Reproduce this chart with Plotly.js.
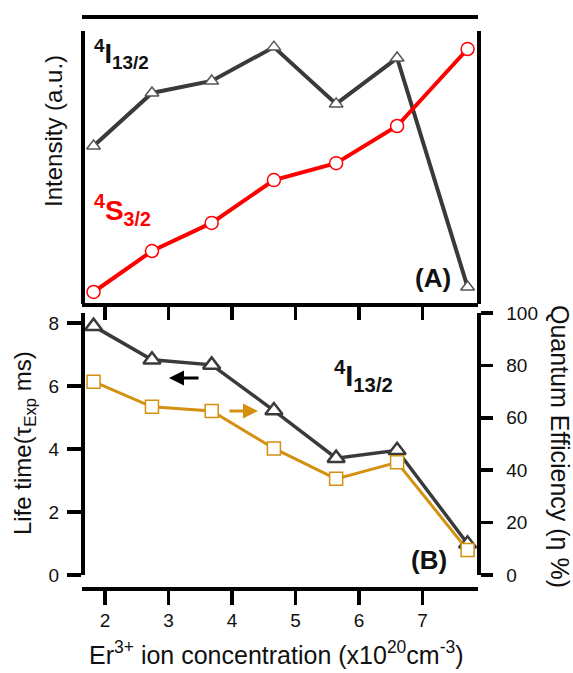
<!DOCTYPE html>
<html><head><meta charset="utf-8">
<script src="https://cdn.plot.ly/plotly-3.0.1.min.js"></script>
<style>html,body{margin:0;padding:0;background:#fff}</style>
</head><body><div id="chart" style="width:573px;height:673px"></div>
<script>
// Data
const concentration = [1.82, 2.74, 3.68, 4.66, 5.64, 6.60, 7.71];
const intensityI13 = [57.9, 77.3, 81.7, 94.1, 73.3, 90.1, 6.2];
const intensityS32 = [4.4, 19.4, 29.7, 45.4, 51.6, 65.2, 93.4];
const lifetime = [7.9, 6.83, 6.67, 5.22, 3.71, 3.96, 0.99];
const quantumEff = [73.8, 64.2, 62.6, 48.3, 36.7, 43.0, 9.5];
const xTicks = [2, 3, 4, 5, 6, 7];
const leftTicks = [0, 2, 4, 6, 8];
const rightTicks = [0, 20, 40, 60, 80, 100];

const FONT = 'Arial, "Liberation Sans", sans-serif';
const DARK = '#3a3a3a';
const RED = '#ff0000';
const GOLD = '#d4900f';

const W = 573, H = 673, L = 82, R = 95, T = 17, B = 85;
const PW = W - L - R, PH = H - T - B;
const px = x => (x - L) / PW;
const py = y => (H - B - y) / PH;

const traces = [
  {x: concentration, y: intensityI13, xaxis: 'x', yaxis: 'y3', mode: 'lines+markers',
   line: {color: DARK, width: 4},
   marker: {symbol: 'triangle-up', size: 12, color: '#fff', line: {color: '#555', width: 1.5}},
   cliponaxis: false},
  {x: concentration, y: intensityS32, xaxis: 'x', yaxis: 'y3', mode: 'lines+markers',
   line: {color: RED, width: 4},
   marker: {symbol: 'circle', size: 13, color: '#fff', line: {color: RED, width: 1.5}},
   cliponaxis: false},
  {x: concentration, y: quantumEff, xaxis: 'x', yaxis: 'y2', mode: 'lines+markers',
   line: {color: GOLD, width: 3},
   marker: {symbol: 'square', size: 13, color: '#fff', line: {color: GOLD, width: 1.5}},
   cliponaxis: false},
  {x: concentration, y: lifetime, xaxis: 'x', yaxis: 'y', mode: 'lines+markers',
   line: {color: DARK, width: 3.5},
   marker: {symbol: 'triangle-up', size: 15, color: '#fff', line: {color: DARK, width: 2.5}},
   cliponaxis: false},
  // empty traces so that the frame axes get drawn
  {x: [], y: [], xaxis: 'x2', yaxis: 'y4', mode: 'lines', hoverinfo: 'skip'},
  {x: [], y: [], xaxis: 'x3', yaxis: 'y4', mode: 'lines', hoverinfo: 'skip'}
];

const tickfont = {family: FONT, size: 19, color: '#111'};
const axBase = {showgrid: false, zeroline: false, showline: true, linecolor: '#000', linewidth: 3.5,
  tickcolor: '#000', tickwidth: 3.5, tickfont: tickfont, fixedrange: true};
const xRange = [1.638, 7.874];

const layout = {
  width: W, height: H,
  margin: {l: L, r: R, t: T, b: B, pad: 0},
  paper_bgcolor: '#fff', plot_bgcolor: 'rgba(0,0,0,0)',
  showlegend: false,
  font: {family: FONT, color: '#000'},
  xaxis: Object.assign({}, axBase, {domain: [0, 1], range: xRange, anchor: 'free', position: 0,
    ticks: 'outside', ticklen: 14, tickvals: xTicks, ticktext: xTicks.map(String), ticklabelstandoff: 0}),
  xaxis2: Object.assign({}, axBase, {overlaying: 'x', range: xRange, side: 'top', anchor: 'free', position: py(304),
    ticks: 'inside', ticklen: 13, tickvals: xTicks, showticklabels: false}),
  xaxis3: Object.assign({}, axBase, {overlaying: 'x', range: xRange, side: 'top', anchor: 'free', position: 1,
    linewidth: 4, ticks: '', showticklabels: false}),
  yaxis: Object.assign({}, axBase, {domain: [py(575), py(313)], range: [0, 8.317], anchor: 'free', position: 0,
    ticks: 'outside', ticklen: 14, tickvals: leftTicks, ticktext: leftTicks.map(String), ticklabelstandoff: 4}),
  yaxis2: Object.assign({}, axBase, {overlaying: 'y', side: 'right', range: [0, 100], anchor: 'free', position: 1,
    ticks: 'outside', ticklen: 12, tickvals: rightTicks, ticktext: rightTicks.map(String), ticklabelstandoff: 10}),
  yaxis3: Object.assign({}, axBase, {domain: [py(304), py(31)], range: [0, 100], anchor: 'free', position: 0,
    ticks: '', showticklabels: false}),
  yaxis4: Object.assign({}, axBase, {overlaying: 'y3', side: 'right', range: [0, 100], anchor: 'free', position: 1,
    ticks: '', showticklabels: false}),
  annotations: [
    {xref: 'paper', yref: 'paper', x: px(54), y: py(131), text: 'Intensity (a.u.)', textangle: -90,
     showarrow: false, xanchor: 'center', yanchor: 'middle', font: {family: FONT, size: 24, color: '#111'}},
    {xref: 'paper', yref: 'paper', x: px(24), y: py(443), text: 'Life time(τ<sub>Exp</sub> ms)', textangle: -90,
     showarrow: false, xanchor: 'center', yanchor: 'middle', font: {family: FONT, size: 24, color: '#111'}},
    {xref: 'paper', yref: 'paper', x: px(560), y: py(446), text: 'Quantum Efficiency (η %)', textangle: 90,
     showarrow: false, xanchor: 'center', yanchor: 'middle', font: {family: FONT, size: 25, color: '#111'}},
    {xref: 'paper', yref: 'paper', x: px(276), y: py(653), text: 'Er<sup>3+</sup> ion concentration (x10<sup>20</sup>cm<sup>-3</sup>)',
     showarrow: false, xanchor: 'center', yanchor: 'middle', font: {family: FONT, size: 25, color: '#111'}},
    {xref: 'paper', yref: 'paper', x: px(92), y: py(33), text: '<b><sup>4</sup>I<sub>13/2</sub></b>',
     showarrow: false, xanchor: 'left', yanchor: 'top', font: {family: FONT, size: 27, color: '#111'}},
    {xref: 'paper', yref: 'paper', x: px(92), y: py(188), text: '<b><sup>4</sup>S<sub>3/2</sub></b>',
     showarrow: false, xanchor: 'left', yanchor: 'top', font: {family: FONT, size: 28, color: RED}},
    {xref: 'paper', yref: 'paper', x: px(332), y: py(354), text: '<b><sup>4</sup>I<sub>13/2</sub></b>',
     showarrow: false, xanchor: 'left', yanchor: 'top', font: {family: FONT, size: 29, color: '#111'}},
    {xref: 'paper', yref: 'paper', x: px(433), y: py(278), text: '<b>(A)</b>',
     showarrow: false, xanchor: 'center', yanchor: 'middle', font: {family: FONT, size: 26, color: '#111'}},
    {xref: 'paper', yref: 'paper', x: px(429), y: py(560), text: '<b>(B)</b>',
     showarrow: false, xanchor: 'center', yanchor: 'middle', font: {family: FONT, size: 26, color: '#111'}},
    {xref: 'paper', yref: 'paper', x: px(169), y: py(378), ax: 31, ay: 0, text: '',
     showarrow: true, arrowhead: 2, arrowsize: 1, arrowwidth: 3, arrowcolor: '#000'},
    {xref: 'paper', yref: 'paper', x: px(258), y: py(411), ax: -30, ay: 0, text: '',
     showarrow: true, arrowhead: 2, arrowsize: 1, arrowwidth: 3, arrowcolor: GOLD}
  ]
};

Plotly.newPlot('chart', traces, layout, {staticPlot: true, displayModeBar: false});
</script>
</body></html>
